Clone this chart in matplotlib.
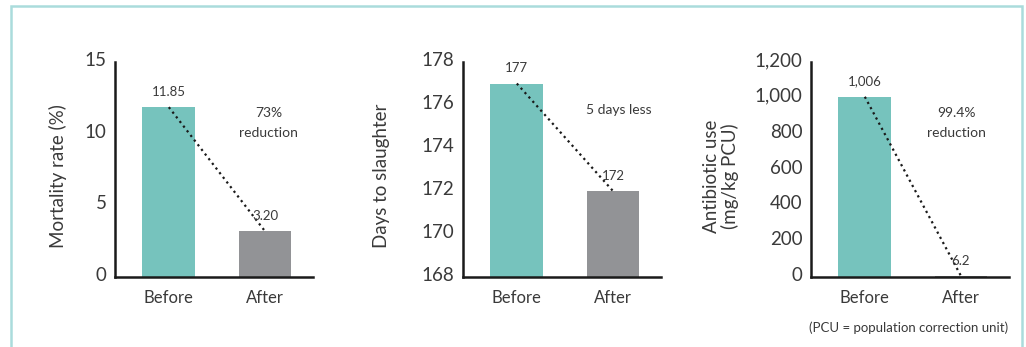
import matplotlib
matplotlib.use("Agg")
import matplotlib.pyplot as plt
import matplotlib.transforms as mtransforms
from matplotlib.patches import Rectangle

plt.rcParams['font.family'] = ['Lato', 'DejaVu Sans']

# Valeurs des trois indicateurs, avant / après
categories = ['Before', 'After']

mortality = [11.85, 3.20]
mortality_labels = ['11.85', '3.20']
mortality_ticks = [0, 5, 10, 15]

days = [177, 172]
days_labels = ['177', '172']
days_ticks = [168, 170, 172, 174, 176, 178]

antibiotic = [1006, 6.2]
antibiotic_labels = ['1,006', '6.2']
antibiotic_ticks = [0, 200, 400, 600, 800, 1000, 1200]
antibiotic_ticklabels = ['0', '200', '400', '600', '800', '1,000', '1,200']

TEAL = '#76c3bd'
GREY = '#929396'
TXT = '#3a3a3a'
FRAME = '#aadcdc'

fig = plt.figure(figsize=(10.26, 3.47), dpi=100)

# cadre autour des trois graphiques
fig.patches.append(Rectangle((11 / 1026, -0.05), (1022 - 11) / 1026, 1 - 6 / 347 + 0.05,
                             transform=fig.transFigure, fill=False,
                             edgecolor=FRAME, linewidth=1.8))

lift = mtransforms.ScaledTranslation(0, 3 / 100, fig.dpi_scale_trans)


def panel(left, values, labels, ylim, ticks, ticklabels, ylabel, ylabel_x, note, note_xy):
    ax = fig.add_axes([left / 1026, 0.2017, 198 / 1026, 0.6196])
    x = [0, 1]
    bottom = ylim[0]
    heights = [v - bottom for v in values]
    ax.bar(x, heights, bottom=bottom, width=0.55, color=[TEAL, GREY], zorder=2)
    ax.set_xlim(-0.56, 1.5)
    ax.set_ylim(*ylim)
    ax.set_yticks(ticks)
    ax.set_yticklabels(ticklabels)
    ax.set_xticks(x)
    ax.set_xticklabels(categories)
    ax.tick_params(length=0, labelcolor=TXT)
    ax.tick_params(axis='y', labelsize=13.5, pad=6)
    ax.tick_params(axis='x', labelsize=12, pad=9)
    for lab in ax.get_yticklabels():
        lab.set_transform(lab.get_transform() + lift)
    for s in ['top', 'right']:
        ax.spines[s].set_visible(False)
    for s in ['left', 'bottom']:
        ax.spines[s].set_linewidth(1.8)
        ax.spines[s].set_color('#1a1a1a')

    # ligne pointillée entre les sommets des barres
    ax.plot(x, values, linestyle=':', color='#1a1a1a', linewidth=1.6, zorder=3)

    for xi, v, lab in zip(x, values, labels):
        ax.annotate(lab, (xi, v), xytext=(0, 11), textcoords='offset points',
                    ha='center', va='center', fontsize=9.5, color=TXT)

    ax.text(ylabel_x, 0.47, ylabel, transform=ax.transAxes, rotation=90,
            ha='center', va='center', fontsize=13.5, color=TXT, linespacing=1.05)
    ax.text(note_xy[0], note_xy[1], note, transform=ax.transAxes,
            ha='center', va='center', fontsize=10, color=TXT, linespacing=1.8)
    return ax


panel(115, mortality, mortality_labels, (0, 15), mortality_ticks,
      [str(t) for t in mortality_ticks], 'Mortality rate (%)', -0.29,
      '73%\nreduction', (0.775, 0.716))

panel(463, days, days_labels, (168, 178), days_ticks,
      [str(t) for t in days_ticks], 'Days to slaughter', -0.41,
      '5 days less', (0.785, 0.777))

panel(811, antibiotic, antibiotic_labels, (0, 1200), antibiotic_ticks,
      antibiotic_ticklabels, 'Antibiotic use\n(mg/kg PCU)', -0.455,
      '99.4%\nreduction', (0.735, 0.716))

fig.text(1008 / 1026, 1 - 328 / 347, '(PCU = population correction unit)',
         ha='right', va='center', fontsize=9.5, color=TXT)

fig.savefig('out.png', dpi=100)
